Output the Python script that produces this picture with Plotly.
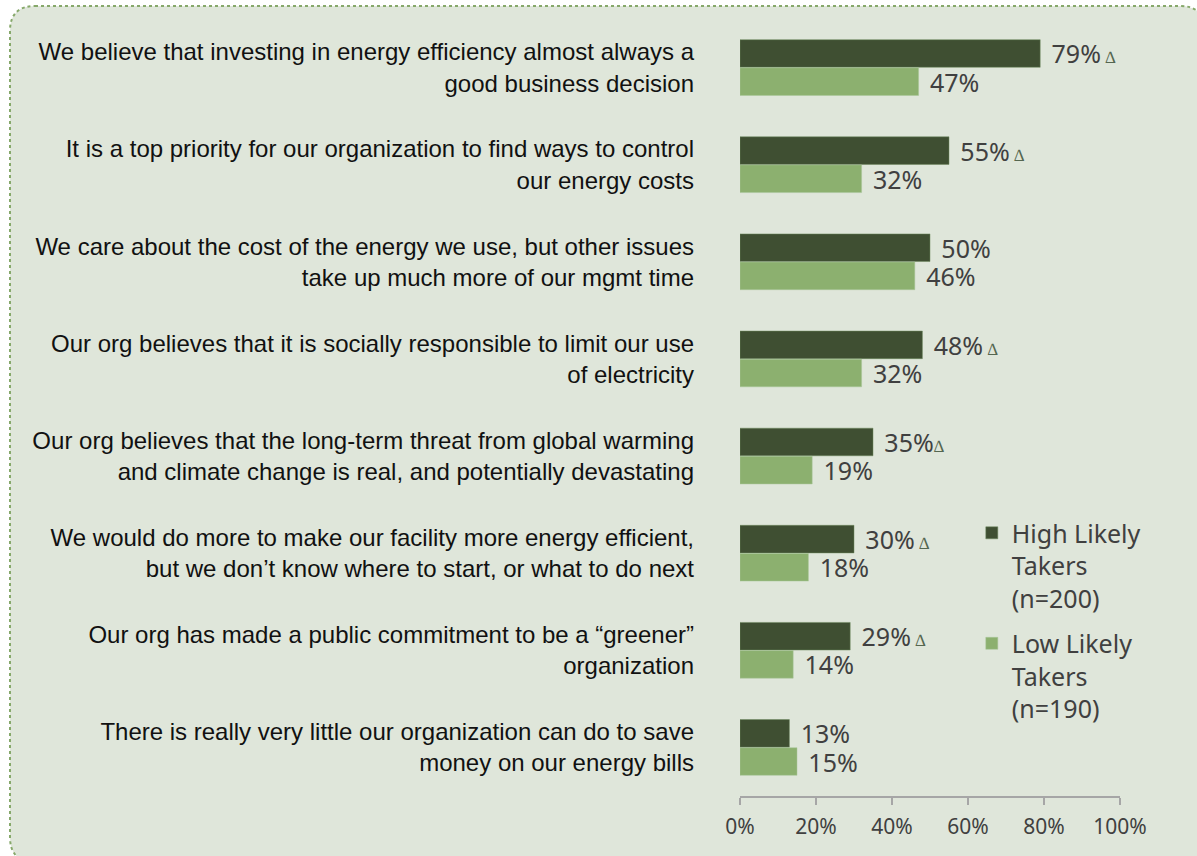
import plotly.graph_objects as go

# statements, top to bottom
statements = [
    "We believe that investing in energy efficiency almost always a<br>good business decision",
    "It is a top priority for our organization to find ways to control<br>our energy costs",
    "We care about the cost of the energy we use, but other issues<br>take up much more of our mgmt time",
    "Our org believes that it is socially responsible to limit our use<br>of electricity",
    "Our org believes that the long-term threat from global warming<br>and climate change is real, and potentially devastating",
    "We would do more to make our facility more energy efficient,<br>but we don\u2019t know where to start, or what to do next",
    "Our org has made a public commitment to be a \u201cgreener\u201d<br>organization",
    "There is really very little our organization can do to save<br>money on our energy bills",
]

high_likely = [79, 55, 50, 48, 35, 30, 29, 13]
low_likely = [47, 32, 46, 32, 19, 18, 14, 15]
# significance marker after the high-likely value
high_marker = [" \u2206", " \u2206", "", " \u2206", "\u2206", " \u2206", " \u2206", ""]

x_ticks = [0, 20, 40, 60, 80, 100]
x_ticktext = ["0%", "20%", "40%", "60%", "80%", "100%"]

DARK = "#3f4f32"
LIGHT = "#8cb06f"
BG = "#dfe6da"
LABEL = "#404040"

delta_span = "<span style='font-size:17px;color:#556650'>{}</span>"
high_text = ["\u2004" + str(v) + "%" + (delta_span.format(m) if m else "")
             for v, m in zip(high_likely, high_marker)]
low_text = ["\u2004" + str(v) + "%" for v in low_likely]

fig = go.Figure()

fig.add_trace(go.Bar(
    y=statements, x=high_likely, orientation="h",
    name="High Likely<br>Takers<br>(n=200)", legendgroup="high",
    marker=dict(color=DARK, line=dict(color="#6f8a5e", width=0.5)),
    text=high_text, textposition="outside", constraintext="none",
    textfont=dict(family="Noto Sans", size=25, color=LABEL),
    cliponaxis=False, hoverinfo="x+y",
))
fig.add_trace(go.Bar(
    y=statements, x=low_likely, orientation="h",
    name="Low Likely<br>Takers<br>(n=190)", legendgroup="low",
    marker=dict(color=LIGHT, line=dict(color="#a9c79a", width=0.5)),
    text=low_text, textposition="outside", constraintext="none",
    textfont=dict(family="Noto Sans", size=25, color=LABEL),
    cliponaxis=False, hoverinfo="x+y",
))

# rounded panel with dotted border (pixel -> paper conversion)
W, H = 1197, 856
L, R, T, B = 740, 77, 19, 60
pw, ph = W - L - R, H - T - B

def px(x):
    return (x - L) / pw

def py(y):
    return (H - B - y) / ph

x0, y0, x1, y1, rad = 10, 6, 1205, 862, 25
path = (
    f"M{px(x0 + rad)},{py(y0)} L{px(x1 - rad)},{py(y0)} "
    f"Q{px(x1)},{py(y0)} {px(x1)},{py(y0 + rad)} "
    f"L{px(x1)},{py(y1 - rad)} Q{px(x1)},{py(y1)} {px(x1 - rad)},{py(y1)} "
    f"L{px(x0 + rad)},{py(y1)} Q{px(x0)},{py(y1)} {px(x0)},{py(y1 - rad)} "
    f"L{px(x0)},{py(y0 + rad)} Q{px(x0)},{py(y0)} {px(x0 + rad)},{py(y0)} Z"
)
fig.add_shape(type="path", path=path, xref="paper", yref="paper",
              fillcolor=BG, line=dict(color="#86a86a", width=2, dash="dot"),
              layer="below")

fig.update_layout(
    width=W, height=H,
    margin=dict(l=L, r=R, t=T, b=B, pad=0),
    paper_bgcolor="white",
    plot_bgcolor="rgba(0,0,0,0)",
    barmode="group", bargap=0.42, bargroupgap=0.02,
    font=dict(family="Noto Sans", color=LABEL),
    showlegend=True,
    legend=dict(
        x=0.61, y=0.368, xanchor="left", yanchor="top",
        bgcolor="rgba(0,0,0,0)", font=dict(family="Noto Sans", size=25, color=LABEL),
        valign="top", tracegroupgap=10, itemwidth=30,
    ),
    xaxis=dict(
        range=[0, 100], tickvals=x_ticks, ticktext=x_ticktext,
        showgrid=False, zeroline=False,
        showline=True, linecolor="#a6a6a6", linewidth=1.5,
        ticks="outside", ticklen=7, tickcolor="#a6a6a6", tickwidth=1.5,
        ticklabelstandoff=4,
        tickfont=dict(family="Noto Sans", size=21, color=LABEL),
        fixedrange=True,
    ),
    yaxis=dict(
        categoryorder="array", categoryarray=statements, autorange="reversed",
        showgrid=False, zeroline=False, showline=False, ticks="",
        ticklabelstandoff=45,
        tickfont=dict(family="Liberation Sans", size=24, color="#111111"),
        fixedrange=True,
    ),
)

fig.write_html("out.html", config={"displayModeBar": False},
               post_script="document.body.style.margin='0';")
